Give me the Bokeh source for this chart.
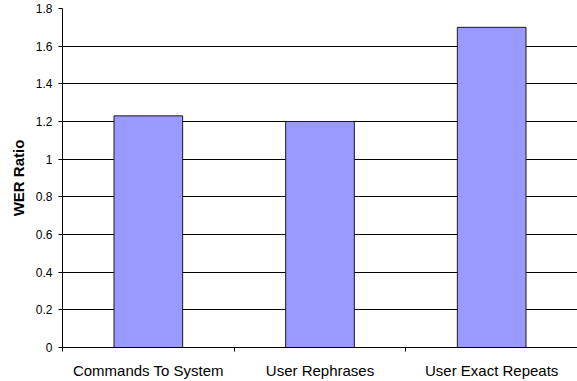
from bokeh.plotting import figure
from bokeh.models import FixedTicker, ColumnDataSource, Range1d
from bokeh.embed import file_html
from bokeh.resources import INLINE

# Data
categories = ["Commands To System", "User Rephrases", "User Exact Repeats"]
wer_ratio = [1.23, 1.20, 1.70]
y_ticks = [0, 0.2, 0.4, 0.6, 0.8, 1.0, 1.2, 1.4, 1.6, 1.8]
y_tick_labels = ["0", "0.2", "0.4", "0.6", "0.8", "1", "1.2", "1.4", "1.6", "1.8"]

centers = [i + 0.5 for i in range(len(categories))]
source = ColumnDataSource(dict(x=centers, top=wer_ratio, cat=categories))

p = figure(width=577, height=381, output_backend="svg", toolbar_location=None,
           x_range=Range1d(0, len(categories)), y_range=Range1d(0, 1.8),
           min_border_left=62, min_border_right=0, min_border_top=8, min_border_bottom=34)
p.outline_line_color = None
p.background_fill_color = "white"
p.border_fill_color = "white"

p.vbar(x="x", top="top", width=0.4, bottom=0, source=source,
       fill_color="#9999FF", line_color="#1a1a1a", line_width=1)

font = "Liberation Sans"

# X axis: category names at bar centres, ticks at category boundaries
p.xaxis.ticker = FixedTicker(ticks=centers, minor_ticks=list(range(len(categories) + 1)))
p.xaxis.major_label_overrides = {c: n for c, n in zip(centers, categories)}
p.xaxis.major_tick_line_color = None
p.xaxis.major_tick_in = 0
p.xaxis.major_tick_out = 6
p.xaxis.minor_tick_in = 0
p.xaxis.minor_tick_out = 4
p.xaxis.minor_tick_line_color = "black"
p.xaxis.axis_line_color = "black"
p.xaxis.major_label_text_font = font
p.xaxis.major_label_text_font_size = "15px"
p.xaxis.major_label_text_color = "black"
p.xaxis.major_label_standoff = 8

# Y axis
p.yaxis.ticker = FixedTicker(ticks=y_ticks)
p.yaxis.major_label_overrides = {t: l for t, l in zip(y_ticks, y_tick_labels)}
p.yaxis.major_tick_in = 0
p.yaxis.major_tick_out = 4
p.yaxis.major_tick_line_color = "black"
p.yaxis.minor_tick_line_color = None
p.yaxis.axis_line_color = "black"
p.yaxis.major_label_text_font = font
p.yaxis.major_label_text_font_size = "12px"
p.yaxis.major_label_text_color = "black"
p.yaxis.major_label_standoff = 6
p.yaxis.axis_label = "WER Ratio"
p.yaxis.axis_label_text_font = font
p.yaxis.axis_label_text_font_style = "bold"
p.yaxis.axis_label_text_font_size = "15px"
p.yaxis.axis_label_text_color = "black"
p.yaxis.axis_label_standoff = 6

p.xgrid.grid_line_color = None
p.ygrid.grid_line_color = "black"
p.ygrid.grid_line_width = 1

open("out.html", "w").write(file_html(p, INLINE))
